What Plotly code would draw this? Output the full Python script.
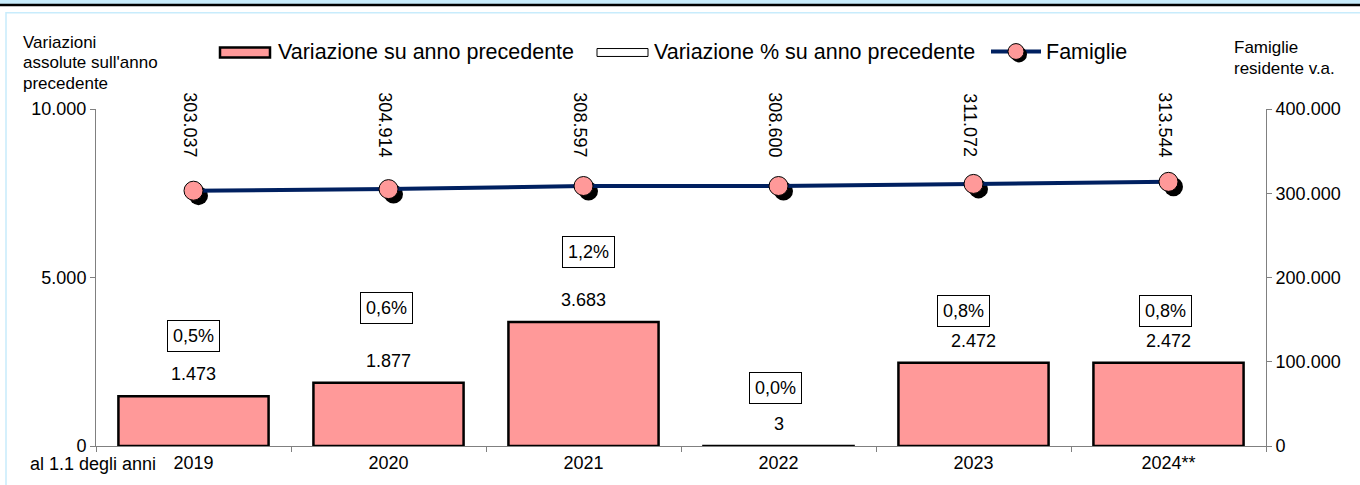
import plotly.graph_objects as go

# ---------------- data ----------------
years = ["2019", "2020", "2021", "2022", "2023", "2024**"]
variazione_abs = [1473, 1877, 3683, 3, 2472, 2472]
variazione_pct = ["0,5%", "0,6%", "1,2%", "0,0%", "0,8%", "0,8%"]
famiglie = [303037, 304914, 308597, 308600, 311072, 313544]

# label nudges (pixels) for the % boxes, as in the original layout
pct_yshift = [60, 75, 70, 58, 52, 52]
pct_xshift = [0, -2, 5, -3, -10, -3]

PINK = "#FF9999"
NAVY = "#002060"
AXIS = "#808080"
FONT = "Liberation Sans, Arial, sans-serif"
FRAME = "#C8ECFC"

W, H = 1360, 485
L, R, T, B = 96, 1266, 109, 449  # plot area in pixels


def px(x):
    return (x - L) / (R - L)


def py(y):
    return (B - y) / (B - T)


def fmt(v):
    return f"{v:,}".replace(",", ".")


Y1MAX = 10000
Y2MAX = 400000
n = len(years)
xr = [-0.5, n - 0.5]
ppx = (R - L) / n            # pixels per category
shadow_dx, shadow_dy = 5, 5
y2_per_px = Y2MAX / (B - T)

fig = go.Figure()

# bars
fig.add_trace(go.Bar(
    x=years, y=variazione_abs, xaxis="x", yaxis="y",
    marker=dict(color=PINK, line=dict(color="black", width=2.5)),
    width=0.77, showlegend=False, hoverinfo="skip",
))

# marker shadows
fig.add_trace(go.Scatter(
    x=years, y=famiglie, xaxis="x2", yaxis="y3", mode="markers",
    marker=dict(color="black", size=19, line=dict(width=0)),
    showlegend=False, hoverinfo="skip",
))

# line + markers
fig.add_trace(go.Scatter(
    x=years, y=famiglie, xaxis="x3", yaxis="y2", mode="lines+markers",
    line=dict(color=NAVY, width=4),
    marker=dict(color=PINK, size=19, line=dict(color="black", width=1)),
    showlegend=False, hoverinfo="skip",
))

annotations = []
# bar value labels
for i, v in enumerate(variazione_abs):
    annotations.append(dict(
        x=i, y=v, xref="x", yref="y", text=fmt(v),
        showarrow=False, yanchor="middle", yshift=22,
        font=dict(size=18, color="black", family=FONT)))
# percent boxes
for i, (v, p, ys, xs) in enumerate(zip(variazione_abs, variazione_pct, pct_yshift, pct_xshift)):
    annotations.append(dict(
        x=i, y=v, xref="x", yref="y", text=p, showarrow=False,
        yanchor="middle", yshift=ys, xshift=xs,
        bordercolor="black", borderwidth=1, borderpad=5, bgcolor="white",
        font=dict(size=18, color="black", family=FONT)))
# rotated famiglie labels
for i, v in enumerate(famiglie):
    annotations.append(dict(
        x=i, y=py(125), xref="x", yref="paper", text=fmt(v),
        showarrow=False, textangle=90, xanchor="center", yanchor="middle",
        xshift=-3, font=dict(size=18, color="black", family=FONT)))

# axis titles
for i, t in enumerate(["Variazioni", "assolute sull'anno", "precedente"]):
    annotations.append(dict(
        x=px(21), y=py(42 + 20.5 * i), xref="paper", yref="paper", text=t,
        showarrow=False, xanchor="left", yanchor="middle",
        font=dict(size=17, color="black", family=FONT)))
for i, t in enumerate(["Famiglie", "residente v.a."]):
    annotations.append(dict(
        x=px(1232), y=py(47 + 21.5 * i), xref="paper", yref="paper", text=t,
        showarrow=False, xanchor="left", yanchor="middle",
        font=dict(size=17, color="black", family=FONT)))
annotations.append(dict(
    x=px(28), y=py(467), xref="paper", yref="paper", text="al 1.1 degli anni",
    showarrow=False, xanchor="left", yanchor="middle",
    font=dict(size=18, color="black", family=FONT)))

# legend texts
for xx, t in [(276, "Variazione su anno precedente"),
              (652, "Variazione % su anno precedente"),
              (1044, "Famiglie")]:
    annotations.append(dict(
        x=px(xx), y=py(51), xref="paper", yref="paper", text=t,
        showarrow=False, xanchor="left", yanchor="middle",
        font=dict(size=21.5, color="black", family=FONT)))

shapes = [
    # frame
    dict(type="rect", xref="paper", yref="paper", x0=px(6), x1=px(W + 20),
         y0=py(12), y1=py(H + 20), fillcolor="rgba(0,0,0,0)",
         line=dict(color=FRAME, width=1.5), layer="below"),
    dict(type="rect", xref="paper", yref="paper", x0=px(-5), x1=px(W + 5),
         y0=py(-5), y1=py(3), fillcolor=FRAME, line=dict(width=0), layer="below"),
    dict(type="line", xref="paper", yref="paper", x0=px(-5), x1=px(W + 5),
         y0=py(4), y1=py(4), line=dict(color="black", width=2.5)),
    # legend symbols
    dict(type="rect", xref="paper", yref="paper", x0=px(220), x1=px(270),
         y0=py(57), y1=py(47), fillcolor=PINK, line=dict(color="black", width=2.5)),
    dict(type="rect", xref="paper", yref="paper", x0=px(597), x1=px(648),
         y0=py(56), y1=py(48), fillcolor="white", line=dict(color="black", width=1)),
    dict(type="line", xref="paper", yref="paper", x0=px(991), x1=px(1041),
         y0=py(51), y1=py(51), line=dict(color=NAVY, width=4)),
    dict(type="circle", xref="paper", yref="paper", x0=px(1011), x1=px(1027),
         y0=py(46), y1=py(62), fillcolor="black", line=dict(width=0)),
    dict(type="circle", xref="paper", yref="paper", x0=px(1008), x1=px(1024),
         y0=py(43), y1=py(59), fillcolor=PINK, line=dict(color="black", width=1)),
]

fig.update_layout(
    width=W, height=H, autosize=False,
    margin=dict(l=L, r=W - R, t=T, b=H - B, pad=0),
    paper_bgcolor="white", plot_bgcolor="white",
    separators=",.",
    font=dict(family=FONT, size=18, color="black"),
    showlegend=False,
    bargap=0.23,
    xaxis=dict(type="category", range=xr, showline=True, linecolor=AXIS, linewidth=1,
               ticks="outside", ticklen=5, tickcolor=AXIS, tickson="boundaries",
               showgrid=False, zeroline=False, tickfont=dict(size=18)),
    yaxis=dict(range=[0, Y1MAX], tickvals=[0, 5000, 10000], tickformat=",.0f",
               showline=True, linecolor=AXIS, linewidth=1, ticks="outside", ticklen=5,
               tickcolor=AXIS, showgrid=False, zeroline=False, tickfont=dict(size=18)),
    yaxis2=dict(range=[0, Y2MAX], tickvals=[0, 100000, 200000, 300000, 400000],
                tickformat=",.0f", overlaying="y", side="right", showline=True,
                linecolor=AXIS, linewidth=1, ticks="outside", ticklen=5, tickcolor=AXIS,
                showgrid=False, zeroline=False, tickfont=dict(size=18)),
    xaxis2=dict(type="category", overlaying="x", visible=False,
                range=[xr[0] - shadow_dx / ppx, xr[1] - shadow_dx / ppx]),
    yaxis3=dict(overlaying="y", visible=False,
                range=[shadow_dy * y2_per_px, Y2MAX + shadow_dy * y2_per_px]),
    xaxis3=dict(type="category", overlaying="x", visible=False, range=xr),
    annotations=annotations,
    shapes=shapes,
)

fig.write_html("out.html", config={"displayModeBar": False, "responsive": False},
               post_script="document.body.style.margin='0';"
               "document.body.style.overflow='hidden';")
